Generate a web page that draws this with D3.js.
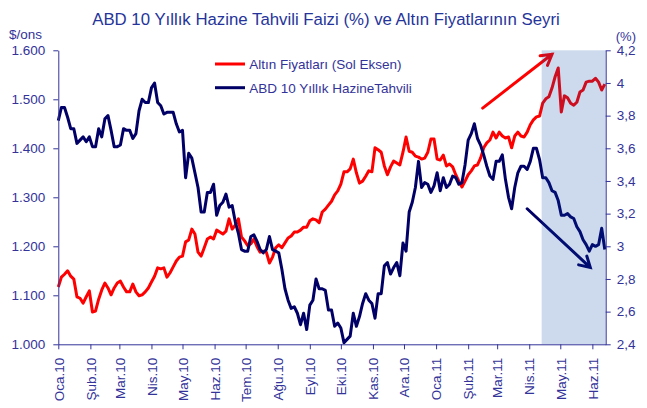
<!DOCTYPE html>
<html><head><meta charset="utf-8">
<script src="https://cdn.jsdelivr.net/npm/d3@7"></script>
<style>body{margin:0;background:#fff} text{font-family:"Liberation Sans",Arial,sans-serif}</style>
</head><body><svg id="c" width="647" height="408"></svg>
<script>
const monthLabels = ["Oca.10","Şub.10","Mar.10","Nis.10","May.10","Haz.10","Tem.10","Ağu.10","Eyl.10","Eki.10","Kas.10","Ara.10","Oca.11","Şub.11","Mar.11","Nis.11","May.11","Haz.11"];
const goldTicks = [1000,1100,1200,1300,1400,1500,1600];
const yieldTicks = [2.4,2.6,2.8,3.0,3.2,3.4,3.6,3.8,4.0,4.2];
const seriesNames = ["Altın Fiyatları (Sol Eksen)", "ABD 10 Yıllık HazineTahvili"];
const titleText = "ABD 10 Yıllık Hazine Tahvili Faizi (%) ve Altın Fiyatlarının Seyri";
// observations every 3 days starting 1 Jan 2010
const gold = [1117,1137,1143,1150,1139,1133,1097,1094,1084,1097,
1109,1066,1068,1092,1111,1125,1115,1101,1115,1125,
1129,1117,1107,1107,1123,1107,1099,1101,1107,1115,
1127,1139,1156,1154,1156,1137,1146,1158,1170,1178,
1180,1209,1213,1235,1225,1188,1180,1197,1215,1219,
1215,1233,1229,1225,1231,1256,1235,1243,1256,1219,
1211,1201,1205,1215,1199,1188,1190,1188,1166,1178,
1197,1203,1197,1207,1217,1221,1229,1229,1233,1239,
1239,1252,1256,1254,1248,1270,1276,1284,1292,1305,
1313,1327,1352,1352,1358,1378,1350,1329,1333,1343,
1354,1352,1401,1397,1392,1364,1346,1362,1374,1370,
1366,1392,1423,1394,1392,1384,1382,1378,1380,1392,
1419,1419,1378,1376,1386,1364,1368,1362,1346,1333,
1321,1333,1346,1354,1364,1366,1380,1401,1411,1417,
1433,1421,1433,1425,1421,1423,1401,1425,1433,1425,
1423,1433,1448,1458,1464,1466,1492,1501,1505,1523,
1546,1564,1474,1507,1503,1492,1488,1494,1515,1519,
1535,1537,1537,1543,1535,1519,1531];
const yield10 = [3.77,3.85,3.85,3.79,3.72,3.72,3.63,3.65,3.67,3.64,
3.67,3.61,3.61,3.72,3.67,3.78,3.80,3.71,3.61,3.61,
3.62,3.72,3.71,3.71,3.66,3.69,3.83,3.90,3.88,3.88,
3.97,4.00,3.88,3.86,3.81,3.82,3.82,3.82,3.75,3.70,
3.71,3.42,3.57,3.54,3.45,3.36,3.21,3.21,3.33,3.33,
3.38,3.19,3.25,3.27,3.32,3.24,3.25,3.15,3.08,2.98,
2.97,2.97,3.06,3.07,3.03,2.98,2.96,2.98,3.06,2.98,
2.97,2.96,2.86,2.74,2.67,2.62,2.63,2.59,2.52,2.59,
2.49,2.64,2.67,2.80,2.74,2.74,2.73,2.61,2.61,2.51,
2.53,2.50,2.41,2.43,2.45,2.59,2.51,2.57,2.65,2.71,
2.67,2.65,2.56,2.71,2.71,2.88,2.90,2.83,2.87,2.90,
2.82,3.02,2.97,3.21,3.27,3.36,3.52,3.36,3.39,3.38,
3.33,3.37,3.45,3.34,3.42,3.36,3.38,3.43,3.42,3.38,
3.39,3.50,3.65,3.69,3.75,3.66,3.62,3.56,3.49,3.43,
3.41,3.52,3.52,3.56,3.41,3.30,3.23,3.36,3.45,3.49,
3.49,3.47,3.52,3.60,3.60,3.53,3.42,3.42,3.39,3.34,
3.33,3.28,3.19,3.19,3.20,3.18,3.17,3.12,3.09,3.04,
3.01,2.97,3.01,3.00,3.01,3.11,2.98];
const startDate = new Date(Date.UTC(2010,0,1));
const endDate = new Date(Date.UTC(2011,5,13,21));
const stepDays = 3;
const shadeStart = new Date(Date.UTC(2011,3,13));
const goldArrow = [[new Date(Date.UTC(2011,1,15)),1482],[new Date(Date.UTC(2011,3,23)),1592]];
const yieldArrow = [[new Date(Date.UTC(2011,2,30)),3.23],[new Date(Date.UTC(2011,4,30)),2.87]];

const dates = gold.map((_, i) => d3.utcDay.offset(startDate, i*stepDays));
const monthDates = monthLabels.map((_, i) => d3.utcMonth.offset(startDate, i));

const svg = d3.select("#c");
const L = 58.3, R = 605.7, T = 50.3, B = 344.3;
const x = d3.scaleUtc().domain([startDate, endDate]).range([L, R]);
const yL = d3.scaleLinear().domain([1000,1600]).range([B, T]);
const yR = d3.scaleLinear().domain([2.4,4.2]).range([B, T]);
const loc = d3.formatLocale({decimal:",", thousands:".", grouping:[3], currency:["",""]});
const axisColor = "#333399", textColor = "#333399";

const lineG = d3.line().x((d,i)=>x(dates[i])).y(d=>yL(d));
const lineY = d3.line().x((d,i)=>x(dates[i])).y(d=>yR(d));
svg.append("path").attr("d", lineG(gold)).attr("fill","none").attr("stroke","#ff0000").attr("stroke-width",3).attr("stroke-linejoin","round");
svg.append("path").attr("d", lineY(yield10)).attr("fill","none").attr("stroke","#000066").attr("stroke-width",3).attr("stroke-linejoin","round");

function arrow(p1, p2, color){
  const a = Math.atan2(p2[1]-p1[1], p2[0]-p1[0]), len = 12, th = Math.PI/6;
  const a1 = [p2[0]-len*Math.cos(a+th), p2[1]-len*Math.sin(a+th)];
  const a2 = [p2[0]-len*Math.cos(a-th), p2[1]-len*Math.sin(a-th)];
  svg.append("path").attr("d", `M${p1}L${p2}M${a1}L${p2}L${a2}`).attr("fill","none")
    .attr("stroke",color).attr("stroke-width",3).attr("stroke-linecap","round").attr("stroke-linejoin","miter");
}
arrow([x(goldArrow[0][0]), yL(goldArrow[0][1])],[x(goldArrow[1][0]), yL(goldArrow[1][1])], "#ff0000");
arrow([x(yieldArrow[0][0]), yR(yieldArrow[0][1])],[x(yieldArrow[1][0]), yR(yieldArrow[1][1])], "#000066");

// shaded period overlay
svg.append("rect").attr("x", x(shadeStart)).attr("y", T).attr("width", R - x(shadeStart)).attr("height", B-T)
  .attr("fill","rgb(5,65,160)").attr("fill-opacity",0.2);

function styleAxis(g){
  g.select(".domain").attr("stroke",axisColor);
  g.selectAll(".tick line").attr("stroke",axisColor);
  g.selectAll("text").attr("fill",textColor).style("font-size","13.5px").attr("font-family",null);
}
const gl = svg.append("g").attr("transform",`translate(${L},0)`)
  .call(d3.axisLeft(yL).tickValues(goldTicks).tickSize(5).tickSizeOuter(0).tickPadding(8).tickFormat(loc.format(",d")));
styleAxis(gl);
const gr = svg.append("g").attr("transform",`translate(${R},0)`)
  .call(d3.axisRight(yR).tickValues(yieldTicks).tickSize(5).tickSizeOuter(0).tickPadding(6).tickFormat(loc.format("~g")));
styleAxis(gr);
const gx = svg.append("g").attr("transform",`translate(0,${B})`)
  .call(d3.axisBottom(x).tickValues(monthDates).tickSize(5).tickSizeOuter(0).tickFormat((d,i)=>monthLabels[i]));
styleAxis(gx);
gx.selectAll(".tick text").attr("transform","rotate(-90)").attr("text-anchor","end")
  .attr("x",-13.5).attr("y",0).attr("dy","0.35em");

svg.append("text").attr("x",326).attr("y",25).attr("text-anchor","middle").attr("fill","#25349a")
  .style("font-size","16.8px").text(titleText);
svg.append("text").attr("x",9).attr("y",38.5).attr("fill",textColor).style("font-size","13.5px").text("$/ons");
svg.append("text").attr("x",636).attr("y",40.5).attr("text-anchor","end").attr("fill",textColor).style("font-size","13px").text("(%)");

const leg = svg.append("g");
const legColors = ["#ff0000","#000066"];
const legY = [64, 87.7];
seriesNames.forEach((n,i)=>{
  leg.append("line").attr("x1",215).attr("x2",245).attr("y1",legY[i]).attr("y2",legY[i]).attr("stroke",legColors[i]).attr("stroke-width",3);
  leg.append("text").attr("x",249.3).attr("y",legY[i]+4.8).attr("fill",textColor).style("font-size","13.5px").text(n);
});
</script></body></html>
